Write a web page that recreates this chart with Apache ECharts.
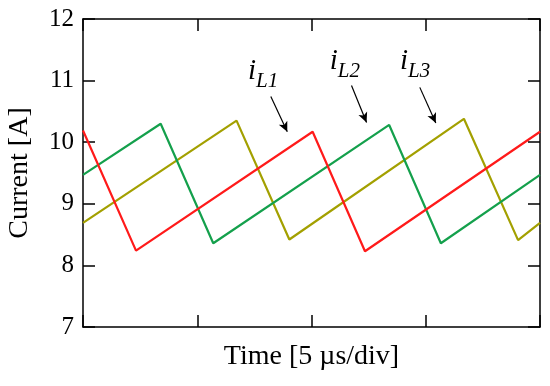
<!DOCTYPE html>
<html>
<head>
<meta charset="utf-8">
<script src="https://cdn.jsdelivr.net/npm/echarts@6/dist/echarts.min.js"></script>
<style>html,body{margin:0;padding:0;background:#fff}#c{width:550px;height:386px}</style>
</head>
<body>
<div id="c"></div>
<script>
// Time in µs (5 µs/div), current in A
const tL1 = [0, 2.32, 10.05, 12.34, 20];
const iL1 = [10.19, 8.24, 10.17, 8.23, 10.17];
const tL2 = [0, 3.40, 5.70, 13.40, 15.66, 20];
const iL2 = [9.47, 10.30, 8.36, 10.28, 8.36, 9.47];
const tL3 = [0, 6.72, 9.03, 16.67, 19.04, 20];
const iL3 = [8.69, 10.35, 8.42, 10.38, 8.41, 8.69];
const yTicks = [7, 8, 9, 10, 11, 12];
const xTicks = [0, 5, 10, 15, 20];
const seriesNames = ['L1', 'L2', 'L3'];
// label anchor (data coords, bottom-left) and arrow start/end (data coords)
const labelPos = [[7.22, 10.91], [10.80, 11.07], [13.87, 11.07]];
const arrowFrom = [[8.22, 10.74], [11.75, 10.92], [14.74, 10.89]];
const arrowTo = [[8.94, 10.17], [12.41, 10.32], [15.44, 10.31]];

const colors = ['#ff1a1a', '#14a04c', '#a3a000'];
const zip = (a, b) => a.map((v, i) => [v, b[i]]);
const font = '"Liberation Serif", "DejaVu Serif", serif';

const chart = echarts.init(document.getElementById('c'), null, {renderer: 'canvas'});
const axisCommon = {
  type: 'value',
  axisLine: {show: true, onZero: false, lineStyle: {color: '#000', width: 1.5}},
  axisTick: {show: true, inside: true, length: 12, lineStyle: {color: '#000', width: 1.5}},
  splitLine: {show: false}
};
const datas = [zip(tL1, iL1), zip(tL2, iL2), zip(tL3, iL3)];
chart.setOption({
  animation: false,
  grid: {left: 83, right: 10, top: 19, bottom: 59, containLabel: false, outerBoundsMode: 'none'},
  xAxis: [
    Object.assign({}, axisCommon, {min: xTicks[0], max: xTicks[xTicks.length-1], interval: 5,
      axisLabel: {show: false}, name: 'Time [5 \u00b5s/div]', nameLocation: 'middle', nameGap: 16,
      nameTextStyle: {fontFamily: font, fontSize: 28, color: '#000'}}),
    Object.assign({}, axisCommon, {position: 'top', min: 0, max: 20, interval: 5, axisLabel: {show: false}})
  ],
  yAxis: [
    Object.assign({}, axisCommon, {min: yTicks[0], max: yTicks[yTicks.length-1], interval: 1,
      axisLabel: {fontFamily: font, fontSize: 25, color: '#000', margin: 9},
      name: 'Current [A]', nameLocation: 'middle', nameGap: 49,
      nameTextStyle: {fontFamily: font, fontSize: 28, color: '#000'}}),
    Object.assign({}, axisCommon, {position: 'right', min: 7, max: 12, interval: 1, axisLabel: {show: false}})
  ],
  series: datas.map((d, k) => ({
    name: seriesNames[k], type: 'line', data: d, showSymbol: false, symbol: 'none',
    lineStyle: {color: colors[k], width: 2.2}, z: 3 + (2 - k),
    markLine: {
      silent: true, symbol: ['none', 'arrow'], symbolSize: [7, 10],
      lineStyle: {color: '#000', width: 1.2, type: 'solid'}, label: {show: false},
      data: [[{coord: arrowFrom[k]}, {coord: arrowTo[k]}]]
    }
  }))
});

const g = labelPos.map((p, k) => {
  const px = chart.convertToPixel({xAxisIndex: 0, yAxisIndex: 0}, p);
  return {
    type: 'text', x: px[0], y: px[1],
    style: {
      text: '{i|i}{s|' + seriesNames[k] + '}',
      rich: {
        i: {fontFamily: font, fontStyle: 'italic', fontSize: 29, fill: '#000', verticalAlign: 'bottom'},
        s: {fontFamily: font, fontStyle: 'italic', fontSize: 21, fill: '#000', verticalAlign: 'bottom', padding: [0, 0, -6, 0]}
      },
      textVerticalAlign: 'bottom'
    }
  };
});
chart.setOption({graphic: g});
</script>
</body>
</html>
